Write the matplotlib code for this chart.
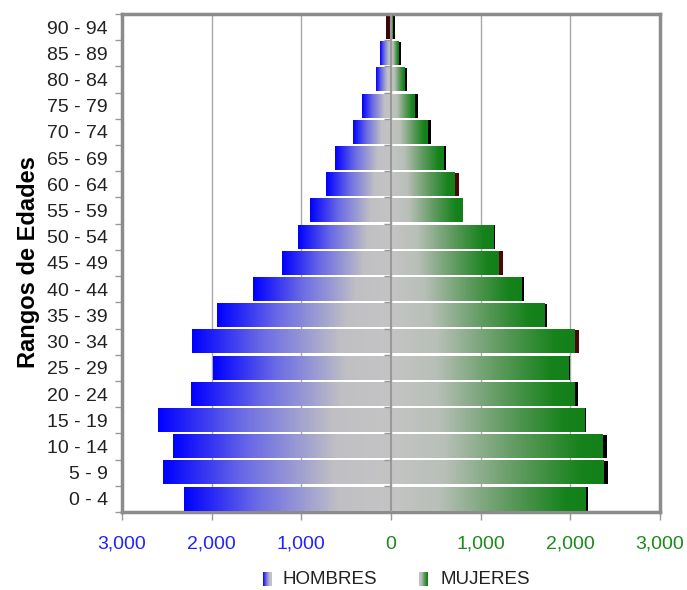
import numpy as np
import matplotlib
matplotlib.use('Agg')
import matplotlib.pyplot as plt
from matplotlib.colors import LinearSegmentedColormap

plt.rcParams['font.family'] = ['Liberation Sans', 'DejaVu Sans']

# Age groups (bottom to top)
edades = ['0 - 4', '5 - 9', '10 - 14', '15 - 19', '20 - 24', '25 - 29', '30 - 34',
          '35 - 39', '40 - 44', '45 - 49', '50 - 54', '55 - 59', '60 - 64',
          '65 - 69', '70 - 74', '75 - 79', '80 - 84', '85 - 89', '90 - 94']

hombres = [2308, 2547, 2435, 2598, 2234, 1981, 2219, 1940, 1538, 1211,
           1032, 898, 720, 627, 419, 329, 162, 128, 10]
mujeres = [2171, 2375, 2360, 2156, 2045, 1978, 2045, 1708, 1456, 1203,
           1141, 795, 712, 589, 407, 266, 151, 80, 20]

# dark marks at the outer end of the bars
hombres_borde = [2308, 2547, 2435, 2598, 2234, 1981, 2219, 1940, 1538, 1211,
                 1032, 898, 720, 627, 419, 329, 162, 128, 61]
mujeres_borde = [2193, 2416, 2405, 2174, 2089, 1996, 2096, 1741, 1487, 1252,
                 1155, 795, 757, 608, 444, 296, 173, 117, 40]
color_borde_h = ['black'] * 18 + ['#3a0606']
color_borde_m = ['black'] * 19
for i in (6, 9, 12):
    color_borde_m[i] = '#4a0808'

ticks_x = [-3000, -2000, -1000, 0, 1000, 2000, 3000]
labels_x = ['3,000', '2,000', '1,000', '0', '1,000', '2,000', '3,000']

azul = '#2222ff'
verde = '#1a8a1a'

cmap_h = LinearSegmentedColormap.from_list('h', [(0, '#0000ff'), (0.35, '#6a6ae6'),
                                                 (0.75, '#c0c0c4'), (1, '#c4c4c4')])
cmap_m = LinearSegmentedColormap.from_list('m', [(0, '#c4c4c4'), (0.25, '#b8bfb8'),
                                                 (0.6, '#5f9a5f'), (0.9, '#15821a'),
                                                 (1, '#13801a')])

fig = plt.figure(figsize=(6.87, 5.90), dpi=100)
ax = fig.add_axes([0.1776, 0.1322, 0.7831, 0.8441])

grad = np.linspace(0, 1, 256).reshape(1, -1)
alto = 0.9
y = np.arange(len(edades))

for i in range(len(edades)):
    # shadow marks
    ax.barh(i, hombres_borde[i] - hombres[i], left=-hombres_borde[i], height=alto,
            color=color_borde_h[i], zorder=2)
    ax.barh(i, mujeres_borde[i] - mujeres[i], left=mujeres[i], height=alto,
            color=color_borde_m[i], zorder=2)
    # gradient bars
    ax.imshow(grad, cmap=cmap_h, extent=[-hombres[i], 0, i - alto / 2, i + alto / 2],
              aspect='auto', interpolation='bilinear', zorder=3)
    ax.imshow(grad, cmap=cmap_m, extent=[0, mujeres[i], i - alto / 2, i + alto / 2],
              aspect='auto', interpolation='bilinear', zorder=3)

# center line and small marks
ax.axvline(0, color='#999999', lw=1.5, zorder=5)
ax.hlines(np.arange(len(edades)) - 0.5, -80, 0, color='#999999', lw=1, zorder=5)

ax.set_xlim(-3000, 3000)
ax.set_ylim(-0.5, len(edades) - 0.5)

ax.set_xticks(ticks_x)
ax.set_xticklabels(labels_x, fontsize=14)
for lab, v in zip(ax.get_xticklabels(), ticks_x):
    lab.set_color(azul if v < 0 else verde)
ax.tick_params(axis='x', length=6, width=1, color='#999999', pad=11)

ax.set_yticks(y)
ax.set_yticklabels(edades, fontsize=14, color='#222222')
ax.set_yticks(np.arange(len(edades) + 1) - 0.5, minor=True)
ax.tick_params(axis='y', which='major', length=0, pad=10)
ax.tick_params(axis='y', which='minor', length=5, width=1, color='#999999')

ax.grid(axis='x', color='#a8a8a8', lw=1, zorder=0)
ax.set_axisbelow(True)
for s in ax.spines.values():
    s.set_color('#8c8c8c')
    s.set_linewidth(2.5)

fig.text(0.041, 0.555, 'Rangos de Edades', rotation=90, fontsize=17,
         fontweight='bold', ha='center', va='center')

# legend
ax_h = fig.add_axes([263 / 687, 1 - 586 / 590, 9 / 687, 14 / 590])
ax_h.imshow(grad, cmap=cmap_h, aspect='auto')
ax_h.axis('off')
ax_m = fig.add_axes([419 / 687, 1 - 586 / 590, 9 / 687, 14 / 590])
ax_m.imshow(grad, cmap=cmap_m, aspect='auto')
ax_m.axis('off')
fig.text(283 / 687, 1 - 579 / 590, 'HOMBRES', fontsize=13.5, va='center', color='#222222')
fig.text(440 / 687, 1 - 579 / 590, 'MUJERES', fontsize=13.5, va='center', color='#222222')

fig.savefig('out.png', dpi=100)
